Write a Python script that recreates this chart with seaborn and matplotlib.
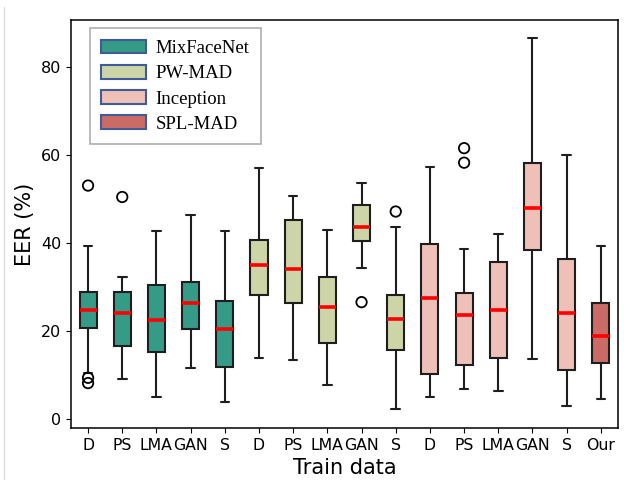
import pandas as pd
import seaborn as sns
import matplotlib.pyplot as plt
from matplotlib.patches import Patch
from matplotlib.lines import Line2D

# box summary stats (EER %)
models = ['MixFaceNet', 'PW-MAD', 'Inception', 'SPL-MAD']
model_colors = ['#359b86', '#cdd4a8', '#efc0b8', '#cb6b65']
box_models = ['MixFaceNet'] * 5 + ['PW-MAD'] * 5 + ['Inception'] * 5 + ['SPL-MAD']
tick_labels = ['D', 'PS', 'LMA', 'GAN', 'S',
               'D', 'PS', 'LMA', 'GAN', 'S',
               'D', 'PS', 'LMA', 'GAN', 'S', 'Our']

whisker_low = [10.4, 9.2, 5.0, 11.6, 3.8, 13.9, 13.4, 7.7, 34.4, 2.2, 5.1, 6.8, 6.3, 13.6, 3.1, 4.6]
q1 = [20.8, 16.6, 15.2, 20.5, 11.9, 28.2, 26.3, 17.3, 40.4, 15.8, 10.2, 12.2, 14.0, 38.4, 11.1, 12.7]
median = [24.7, 24.2, 22.6, 26.3, 20.4, 35.1, 34.2, 25.6, 43.6, 22.8, 27.5, 23.7, 24.9, 48.0, 24.2, 18.9]
q3 = [28.8, 28.9, 30.5, 31.1, 26.8, 40.8, 45.3, 32.3, 48.6, 28.3, 39.8, 28.7, 35.7, 58.3, 36.4, 26.5]
whisker_high = [39.4, 32.2, 42.7, 46.5, 42.7, 57.2, 50.8, 42.9, 53.6, 43.7, 57.4, 38.7, 42.1, 86.6, 60.0, 39.3]

# outliers: (box index, value)
outlier_box = [0, 0, 0, 1, 8, 9, 11, 11]
outlier_val = [53.1, 9.4, 8.2, 50.5, 26.6, 47.2, 61.6, 58.3]

box_ids = [f'{m}-{t}-{i}' for i, (m, t) in enumerate(zip(box_models, tick_labels))]

rows = []
for i, bid in enumerate(box_ids):
    for v in (whisker_low[i], q1[i], median[i], q3[i], whisker_high[i]):
        rows.append({'box': bid, 'model': box_models[i], 'eer': v})
df = pd.DataFrame(rows)
out_df = pd.DataFrame({'box': [box_ids[i] for i in outlier_box], 'eer': outlier_val})

sns.set_style('ticks')
plt.rcParams['font.family'] = ['DejaVu Sans']
for k in ('text.color', 'axes.labelcolor', 'xtick.color', 'ytick.color'):
    plt.rcParams[k] = 'black'

fig = plt.figure(figsize=(6.28, 4.8), dpi=100)
ax = fig.add_axes([0.113, 0.108, 0.871, 0.850])

sns.boxplot(data=df, x='box', y='eer', hue='model', order=box_ids, hue_order=models,
            palette=model_colors, dodge=False, width=0.5, whis=(0, 100),
            linewidth=1.5, linecolor='#1e1e1e', showfliers=False, saturation=1,
            medianprops=dict(color='red', linewidth=2.6), legend=False, ax=ax)

sns.stripplot(data=out_df, x='box', y='eer', order=box_ids, jitter=False,
              color='none', edgecolor='black', linewidth=1.3, size=7.5, ax=ax)

ax.set_xticks(range(len(box_ids)))
ax.set_xticklabels(tick_labels, fontsize=11.3)
ax.tick_params(axis='y', labelsize=11.5)
ax.set_xlim(-0.5, 15.5)
ax.set_ylim(-2.05, 90.7)
ax.set_yticks([0, 20, 40, 60, 80])
ax.set_xlabel('Train data', fontsize=15)
ax.set_ylabel('EER (%)', fontsize=15)
for s in ax.spines.values():
    s.set_color('black')
    s.set_linewidth(1.1)

handles = [Patch(facecolor=c, edgecolor='#3f5b9c', linewidth=1.5, label=m)
           for m, c in zip(models, model_colors)]
leg = ax.legend(handles=handles, loc='upper left', bbox_to_anchor=(0.035, 0.98),
                borderaxespad=0, fancybox=False, frameon=True, handlelength=2.4,
                handleheight=0.75, labelspacing=0.42, borderpad=0.6, handletextpad=0.5,
                prop={'family': 'Liberation Serif', 'size': 13.5})
leg.get_frame().set_edgecolor('#999999')
leg.get_frame().set_linewidth(1.2)

# faint border from the original screenshot
fig.add_artist(Line2D([0.007, 0.007], [0, 0.985], color='#dddddd', linewidth=1))

fig.savefig('out.png', dpi=100)
